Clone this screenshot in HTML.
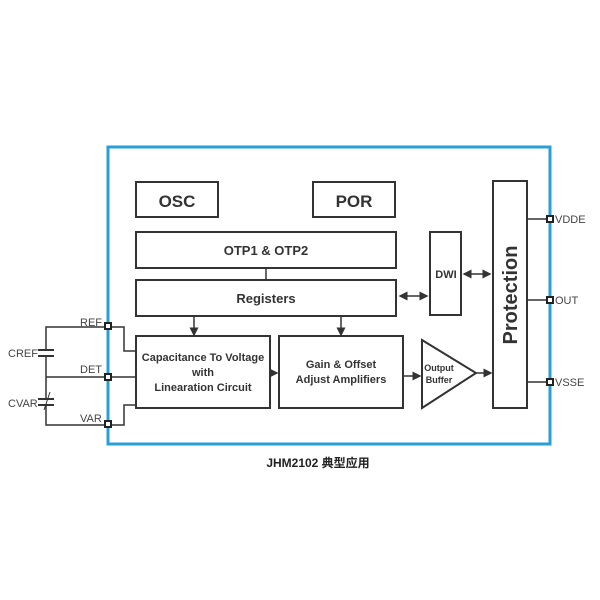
<!DOCTYPE html>
<html><head><style>
body{margin:0;background:#fff;}
svg{display:block}
.t{font-family:"Liberation Sans Narrow","Liberation Sans",sans-serif;font-weight:bold;fill:#333}
.p{font-family:"Liberation Sans",sans-serif;fill:#444;font-size:11px}
</style></head><body>
<svg width="600" height="600" viewBox="0 0 600 600">
<defs><marker id="a" markerWidth="6" markerHeight="6" refX="5" refY="3" orient="auto"><path d="M0,0L6,3L0,6z" fill="#333"/></marker>
<marker id="b" markerWidth="6" markerHeight="6" refX="1" refY="3" orient="auto"><path d="M6,0L0,3L6,6z" fill="#333"/></marker></defs>
<g fill="none" stroke="#333" stroke-width="2">
<rect x="136" y="182" width="82" height="35"/>
<rect x="313" y="182" width="82" height="35"/>
<rect x="136" y="232" width="260" height="36"/>
<rect x="136" y="280" width="260" height="36"/>
<rect x="430" y="232" width="31" height="83"/>
<rect x="493" y="181" width="34" height="227"/>
<rect x="136" y="336" width="134" height="72"/>
<rect x="279" y="336" width="124" height="72"/>
<path d="M422,340L476,373L422,408Z"/>
</g>
<g stroke="#333" stroke-width="1.5" fill="none">
<line x1="266" y1="268" x2="266" y2="280"/>
<line x1="194" y1="316" x2="194" y2="335" marker-end="url(#a)"/>
<line x1="341" y1="316" x2="341" y2="335" marker-end="url(#a)"/>
<line x1="400" y1="296" x2="427" y2="296" marker-start="url(#b)" marker-end="url(#a)"/>
<line x1="464" y1="274" x2="490" y2="274" marker-start="url(#b)" marker-end="url(#a)"/>
<line x1="270" y1="373" x2="277" y2="373" marker-end="url(#a)"/>
<line x1="403" y1="376" x2="420" y2="376" marker-end="url(#a)"/>
<line x1="476" y1="373" x2="491" y2="373" marker-end="url(#a)"/>
<line x1="527" y1="219" x2="548" y2="219"/>
<line x1="527" y1="300" x2="548" y2="300"/>
<line x1="527" y1="382" x2="548" y2="382"/>
<path d="M110,327H124V351H136"/>
<path d="M110,377H136"/>
<path d="M110,425H124V405H136"/>
<path d="M106,327H46V425H106"/>
<path d="M46,377H106"/>
</g>
<rect x="108" y="147" width="442" height="297" fill="none" stroke="#2a9fd6" stroke-width="3"/>
<!-- capacitors -->
<rect x="38" y="349" width="16" height="8" fill="#fff"/>
<line x1="38" y1="350" x2="54" y2="350" stroke="#333" stroke-width="2"/>
<line x1="38" y1="356" x2="54" y2="356" stroke="#333" stroke-width="2"/>
<rect x="38" y="398" width="16" height="8" fill="#fff"/>
<line x1="38" y1="399" x2="54" y2="399" stroke="#333" stroke-width="2"/>
<line x1="38" y1="405" x2="54" y2="405" stroke="#333" stroke-width="2"/>
<line x1="44" y1="410" x2="50" y2="392" stroke="#333" stroke-width="1"/>
<!-- pins -->
<g fill="#fff" stroke="#222" stroke-width="2">
<rect x="105" y="323" width="6" height="6"/>
<rect x="105" y="374" width="6" height="6"/>
<rect x="105" y="421" width="6" height="6"/>
<rect x="547" y="216" width="6" height="6"/>
<rect x="547" y="297" width="6" height="6"/>
<rect x="547" y="379" width="6" height="6"/>
</g>
<text class="t" x="177" y="207" font-size="17" text-anchor="middle">OSC</text>
<text class="t" x="354" y="207" font-size="17" text-anchor="middle">POR</text>
<text class="t" x="266" y="255" font-size="13" text-anchor="middle">OTP1 &amp; OTP2</text>
<text class="t" x="266" y="303" font-size="13" text-anchor="middle">Registers</text>
<text class="t" x="446" y="278" font-size="11" text-anchor="middle">DWI</text>
<text class="t" x="203" y="361" font-size="11" text-anchor="middle">Capacitance To Voltage</text>
<text class="t" x="203" y="376" font-size="11" text-anchor="middle">with</text>
<text class="t" x="203" y="391" font-size="11" text-anchor="middle">Linearation Circuit</text>
<text class="t" x="341" y="368" font-size="11" text-anchor="middle">Gain &amp; Offset</text>
<text class="t" x="341" y="383" font-size="11" text-anchor="middle">Adjust Amplifiers</text>
<text class="t" x="439" y="371" font-size="9" text-anchor="middle">Output</text>
<text class="t" x="439" y="383" font-size="9" text-anchor="middle">Buffer</text>
<text class="t" x="0" y="0" font-size="20" text-anchor="middle" transform="translate(517,295) rotate(-90)">Protection</text>
<text class="p" x="80" y="326">REF</text>
<text class="p" x="80" y="373">DET</text>
<text class="p" x="80" y="422">VAR</text>
<text class="p" x="8" y="357">CREF</text>
<text class="p" x="8" y="407">CVAR</text>
<text class="p" x="555" y="223">VDDE</text>
<text class="p" x="555" y="304">OUT</text>
<text class="p" x="555" y="386">VSSE</text>
<text x="318" y="467" font-size="12" font-weight="bold" text-anchor="middle" fill="#222" font-family="'Liberation Sans','Noto Sans CJK SC',sans-serif">JHM2102 典型应用</text>
</svg>
</body></html>
